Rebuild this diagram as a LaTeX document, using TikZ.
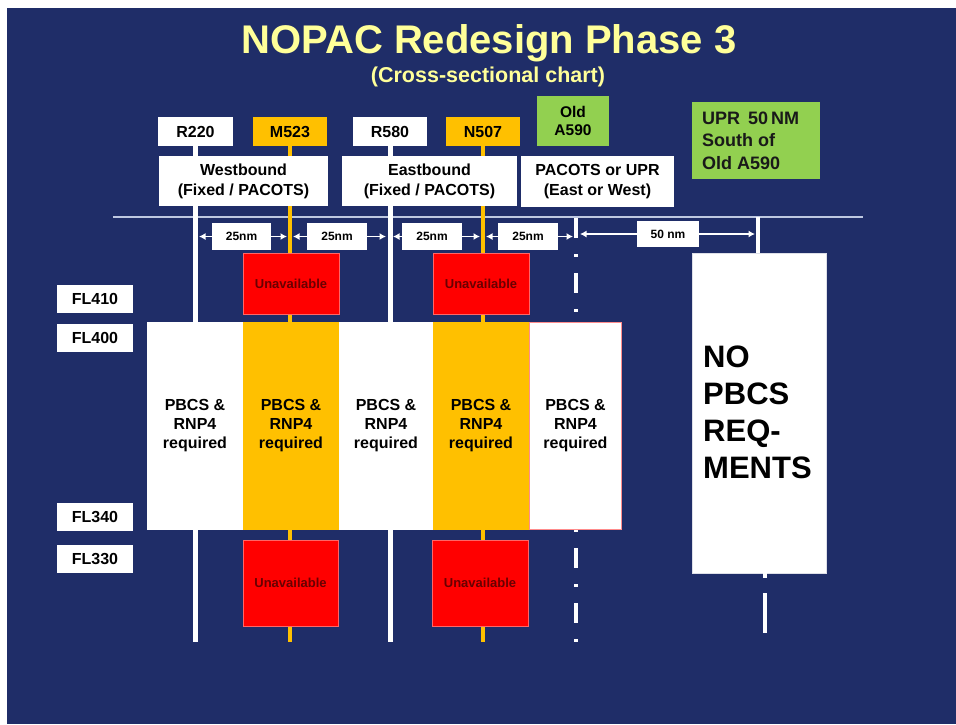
\documentclass[tikz,border=0pt]{standalone}
\usepackage{fontspec}
\setmainfont{Liberation Sans}
\usetikzlibrary{arrows.meta}
\definecolor{slidebg}{RGB}{31,45,104}
\definecolor{titleyel}{RGB}{255,255,153}
\definecolor{orng}{RGB}{255,192,0}
\definecolor{grn}{RGB}{146,208,80}
\definecolor{unavtext}{RGB}{105,0,0}
\definecolor{hlinec}{RGB}{190,200,225}
\begin{document}
\begin{tikzpicture}[x=1pt,y=-1pt,
  box/.style={fill=white,inner sep=0pt,align=center,font=\bfseries\fontsize{16}{20}\selectfont},
  obox/.style={box,fill=orng},
  gbox/.style={box,fill=grn},
  distbox/.style={fill=white,inner sep=0pt,minimum width=60pt,minimum height=27pt,font=\bfseries\fontsize{12}{14}\selectfont},
  unav/.style={fill=red,draw=red!60!white,line width=0.8pt,inner sep=0pt,minimum width=96pt,text=unavtext,font=\bfseries\fontsize{13}{15}\selectfont},
  col/.style={fill=white,inner sep=0pt,minimum height=208pt,align=center,font=\bfseries\fontsize{16}{19}\selectfont},
  flbox/.style={box,minimum width=76pt,minimum height=28pt},
  wline/.style={draw=white,line width=5pt},
  oline/.style={draw=orng,line width=4pt},
  arr/.style={draw=white,line width=1.4pt,-{Latex[length=6.5pt,width=7pt]}}
]
\useasboundingbox (0,0) rectangle (956,724);
\fill[white] (0,0) rectangle (956,724);
\fill[slidebg] (7,8) rectangle (956,724);

% title
\node[text=titleyel,font=\bfseries\fontsize{40}{44}\selectfont,anchor=base] (title) at (489,53) {NOPAC Redesign Phase 3};
\node[text=titleyel,font=\bfseries\fontsize{21.5}{24}\selectfont,anchor=base] (subtitle) at (488,82) {(Cross-sectional chart)};

% top route boxes
\node[box,minimum width=75pt,minimum height=29pt] (r220) at (195.5,131.5) {R220};
\node[obox,minimum width=74pt,minimum height=29pt] (m523) at (290,131.5) {M523};
\node[box,minimum width=74pt,minimum height=29pt] (r580) at (390,131.5) {R580};
\node[obox,minimum width=74pt,minimum height=29pt] (n507) at (483,131.5) {N507};
\node[gbox,minimum width=72pt,minimum height=50pt,font=\bfseries\fontsize{15.5}{18}\selectfont] (olda) at (573,121) {Old\\A590};
\node[gbox,minimum width=128pt,minimum height=77pt] (upr) at (756,140.5) {};
\node[anchor=west,align=left,inner sep=0pt,font=\bfseries\fontsize{18}{22.5}\selectfont,text=black!90] (uprtext) at (702,140.5) {UPR\,\ 50\,NM\\South of\\Old A590};

% horizontal line
\coordinate (hlL) at (113,217);
\coordinate (hlR) at (863,217);
\draw[hlinec,line width=2pt] (hlL) -- (hlR);

% end coordinates of vertical lines
\coordinate (r220end) at (195.5,642);
\coordinate (m523end) at (290,642);
\coordinate (r580end) at (390,642);
\coordinate (n507end) at (483,642);
\coordinate (oldtop) at (576,218);
\coordinate (oldend) at (576,645);
\coordinate (uprtop) at (758,217);

\draw[wline] (r220.south) -- (r220end);
\draw[oline] (m523.south) -- (m523end);
\draw[wline] (r580.south) -- (r580end);
\draw[oline] (n507.south) -- (n507end);
\draw[white,line width=4pt,dash pattern=on 20pt off 16pt on 3pt off 16pt] (oldtop) -- (oldend);

% second row boxes
\node[box,minimum width=169pt,minimum height=50pt] (west) at (243.5,181) {Westbound\\(Fixed / PACOTS)};
\node[box,minimum width=175pt,minimum height=50pt] (east) at (429.5,181) {Eastbound\\(Fixed / PACOTS)};
\node[box,minimum width=153pt,minimum height=51pt] (pacots) at (597.5,181.5) {PACOTS or UPR\\(East or West)};

% distance markers
\node[distbox,minimum width=59pt] (d1) at (241.5,236.5) {25nm};
\node[distbox] (d2) at (337,236.5) {25nm};
\node[distbox] (d3) at (432,236.5) {25nm};
\node[distbox] (d4) at (528,236.5) {25nm};
\node[distbox,minimum width=62pt,minimum height=26pt] (d5) at (668,234) {50 nm};
\coordinate (a1L) at (199,236.5); \coordinate (a1R) at (287,236.5);
\coordinate (a2L) at (293,236.5); \coordinate (a2R) at (386,236.5);
\coordinate (a3L) at (393,236.5); \coordinate (a3R) at (480,236.5);
\coordinate (a4L) at (486,236.5); \coordinate (a4R) at (573,236.5);
\coordinate (a5L) at (580,234); \coordinate (a5R) at (755,234);
\draw[arr] (d1.west) -- (a1L); \draw[arr] (d1.east) -- (a1R);
\draw[arr] (d2.west) -- (a2L); \draw[arr] (d2.east) -- (a2R);
\draw[arr] (d3.west) -- (a3L); \draw[arr] (d3.east) -- (a3R);
\draw[arr] (d4.west) -- (a4L); \draw[arr] (d4.east) -- (a4R);
\draw[arr] (d5.west) -- (a5L); \draw[arr] (d5.east) -- (a5R);

% unavailable boxes
\node[unav,minimum height=61pt] (u1) at (291,283.5) {Unavailable};
\node[unav,minimum height=61pt] (u2) at (481,283.5) {Unavailable};
\node[unav,minimum width=95pt,minimum height=86pt] (u3) at (290.5,583) {Unavailable};
\node[unav,minimum height=86pt] (u4) at (480,583) {Unavailable};

% flight level columns
\node[col,minimum width=96pt] (c1) at (195,426) {PBCS \&\\RNP4\\required};
\node[col,fill=orng,minimum width=96pt] (c2) at (291,426) {PBCS \&\\RNP4\\required};
\node[col,minimum width=94pt] (c3) at (386,426) {PBCS \&\\RNP4\\required};
\node[col,fill=orng,minimum width=96pt] (c4) at (481,426) {PBCS \&\\RNP4\\required};
\node[col,draw=red!45!white,line width=1pt,minimum width=92pt,minimum height=207pt] (c5) at (575.5,426) {PBCS \&\\RNP4\\required};

% flight level labels
\node[flbox] (fl410) at (95,298.5) {FL410};
\node[flbox] (fl400) at (95,337.5) {FL400};
\node[flbox] (fl340) at (95,516.5) {FL340};
\node[flbox] (fl330) at (95,558.5) {FL330};

% no PBCS box
\node[fill=white,draw=white!85!slidebg,line width=0.8pt,inner sep=0pt,minimum width=134pt,minimum height=320pt] (nopbcs) at (759,413) {};
\node[anchor=west,align=left,inner sep=0pt,font=\bfseries\fontsize{31}{37}\selectfont] (noptext) at (703,412) {NO\\PBCS\\REQ-\\MENTS};
\draw[white,line width=4pt] (uprtop) -- (nopbcs.north -| uprtop);
\coordinate (ulo1) at (765,573);
\coordinate (ulo2) at (765,578);
\coordinate (ulo3) at (765,593);
\coordinate (ulo4) at (765,633);
\draw[white,line width=4pt] (ulo1) -- (ulo2);
\draw[white,line width=4pt] (ulo3) -- (ulo4);
\end{tikzpicture}
\end{document}
